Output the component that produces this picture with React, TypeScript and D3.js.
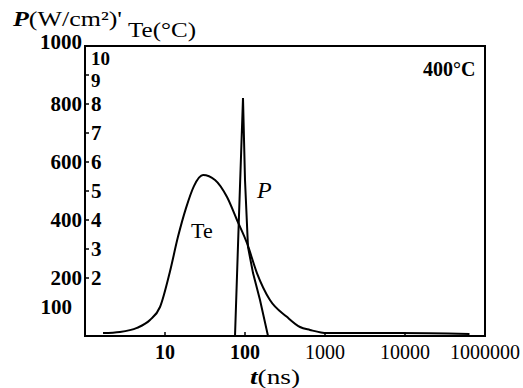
import React from "react";
import * as d3 from "d3";

const teTime = [1.68, 2.74, 4.46, 6.49, 8.66, 11.5, 14.5, 18.3, 23.0, 29.9, 42.2, 59.6, 79.4, 106, 141, 205, 334, 487, 649, 1059, 8660, 64000];
const teValue = [0.1, 0.14, 0.28, 0.55, 1.0, 2.21, 3.41, 4.41, 5.17, 5.55, 5.38, 4.79, 4.0, 3.2, 2.17, 1.24, 0.66, 0.31, 0.21, 0.1, 0.1, 0.07];

const pTime = [75, 84, 94.4, 100, 109, 126, 154, 194];
const pValue = [0, 410, 821, 538, 307, 217, 124, 0];

const xTickValues = [10, 100, 1000, 10000, 100000];
const xTickLabels = ["10", "100", "1000", "10000", "1000000"];
const pTicks = [100, 200, 400, 600, 800, 1000];
const teTicks = [2, 3, 4, 5, 6, 7, 8, 9, 10];

const W = 523, H = 388;
const L = 85, R = 485, T = 46, B = 336;
const FONT = "'Liberation Serif', 'DejaVu Serif', serif";

export default function App() {
  const x = d3.scaleLog().domain([1, 100000]).range([L, R]);
  const yP = d3.scaleLinear().domain([0, 1000]).range([B, T]);
  const yTe = d3.scaleLinear().domain([0, 10]).range([B, T]);

  const teData = teTime.map((t, i) => [t, teValue[i]] as [number, number]);
  const pData = pTime.map((t, i) => [t, pValue[i]] as [number, number]);

  const teLine = d3.line<[number, number]>()
    .x(d => x(d[0]))
    .y(d => yTe(d[1]))
    .curve(d3.curveMonotoneX)(teData) || "";
  const pLine = d3.line<[number, number]>()
    .x(d => x(d[0]))
    .y(d => yP(d[1]))(pData) || "";

  // baseline of each Te label; the top two are squeezed below the frame, as in the original
  const teLabelBase = (v: number) => (v === 10 ? T + 19 : v === 9 ? T + 41 : yTe(v) + 7);

  return (
    <svg width={W} height={H} style={{ position: "absolute", left: 0, top: 0, background: "#fff" }}
      fontFamily={FONT} fontWeight="bold">
      <rect x={0} y={0} width={W} height={H} fill="#fff" />
      {/* frame */}
      <rect x={L} y={T} width={R - L} height={B - T} fill="none" stroke="#000" strokeWidth={2} />

      {/* P axis labels */}
      {pTicks.map(v => (
        <text key={"p" + v} x={v === 100 ? 72 : 82} y={v === 1000 ? yP(v) + 3 : yP(v) + 7}
          textAnchor="end" fontSize={21}>{v}</text>
      ))}

      {/* Te axis ticks and labels */}
      {teTicks.map(v => (
        <g key={"te" + v}>
          <line x1={L} x2={L + 4} y1={yTe(v)} y2={yTe(v)} stroke="#000" strokeWidth={1.5} />
          <text x={91} y={teLabelBase(v)} fontSize={v >= 9 ? 19 : 21}>{v}</text>
        </g>
      ))}

      {/* x axis ticks and labels */}
      {xTickValues.map((v, i) => (
        <g key={"x" + v}>
          <line x1={x(v)} x2={x(v)} y1={B} y2={B - 4} stroke="#000" strokeWidth={1.5} />
          <text x={x(v)} y={359} textAnchor="middle" fontSize={20}
            fontWeight={i >= 2 ? "normal" : "bold"}>{xTickLabels[i]}</text>
        </g>
      ))}

      {/* curves */}
      <path d={teLine} fill="none" stroke="#000" strokeWidth={2} />
      <path d={pLine} fill="none" stroke="#000" strokeWidth={2} />

      {/* axis titles */}
      <text x={13} y={26} fontSize={21} textLength={109} lengthAdjust="spacingAndGlyphs">
        <tspan fontStyle="italic">P</tspan>
        <tspan fontWeight="normal">(W/cm²)'</tspan>
      </text>
      <text x={128} y={37} fontSize={21} fontWeight="normal" textLength={68} lengthAdjust="spacingAndGlyphs">Te(°C)</text>
      <text x={250} y={384} fontSize={21} fontWeight="normal" textLength={50} lengthAdjust="spacingAndGlyphs">
        <tspan fontStyle="italic" fontWeight="bold">t</tspan>(ns)
      </text>

      {/* annotations */}
      <text x={423} y={76} fontSize={20}>400°C</text>
      <text x={257} y={198} fontSize={24} fontStyle="italic" fontWeight="normal">P</text>
      <text x={191} y={238} fontSize={22} fontWeight="normal">Te</text>
    </svg>
  );
}
